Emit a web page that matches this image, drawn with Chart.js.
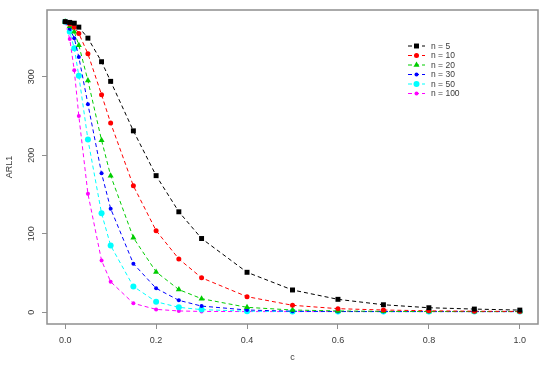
<!DOCTYPE html>
<html>
<head>
<meta charset="utf-8">
<script src="https://cdn.jsdelivr.net/npm/chart.js@4.4.1/dist/chart.umd.min.js"></script>
<style>
  html, body { margin: 0; padding: 0; background: #fff; }
</style>
</head>
<body>
<canvas id="chart" width="550" height="365"></canvas>
<script>
// shift sizes c
const cValues = [0, 0.01, 0.02, 0.03, 0.05, 0.08, 0.1, 0.15, 0.2, 0.25, 0.3, 0.4, 0.5, 0.6, 0.7, 0.8, 0.9, 1.0];

// ARL1 for each sample size n
const arlN5   = [370, 369, 368, 363, 349, 319, 294, 231, 174, 128, 94, 51, 28.5, 16.6, 9.7, 5.9, 4.2, 2.9];
const arlN10  = [370, 367, 363, 355, 329, 277, 241, 161, 104, 68, 44, 20, 9, 4.7, 3, 2, 1.5, 1.2];
const arlN20  = [370, 364, 357, 340, 295, 219, 174, 95, 51.5, 29, 17.4, 6.4, 3, 1.8, 1.3, 1.1, 1, 1];
const arlN30  = [370, 361, 349, 325, 265, 177, 132, 62, 30.6, 15.3, 8, 3, 1.5, 1.1, 1, 1, 1, 1];
const arlN50  = [370, 357, 336, 301, 220, 126, 85, 33, 13.5, 6.4, 3.5, 1.5, 1.1, 1, 1, 1, 1, 1];
const arlN100 = [370, 348, 308, 250, 151, 66, 39, 11.5, 3.8, 1.8, 1.2, 1, 1, 1, 1, 1, 1, 1];

const seriesLabels = ['n = 5', 'n = 10', 'n = 20', 'n = 30', 'n = 50', 'n = 100'];
const xTicks = [0, 0.2, 0.4, 0.6, 0.8, 1.0];
const yTicks = [0, 100, 200, 300];

const FRAME = '#8f8f8f';
const TEXT = '#3a3a3a';
const FONT = 'Liberation Sans, Arial, sans-serif';

// estilos de cada serie
const styles = [
  { color: '#000000', pointStyle: 'rect', radius: 3.5 },
  { color: '#ff0000', pointStyle: 'circle', radius: 2.5 },
  { color: '#00cd00', pointStyle: 'triangle', radius: 3.5 },
  { color: '#0000ff', pointStyle: 'circle', radius: 2 },
  { color: '#00ffff', pointStyle: 'circle', radius: 3 },
  { color: '#ff00ff', pointStyle: 'circle', radius: 2 }
];

function makeDataset(label, values, style) {
  return {
    label,
    data: values.map((v, i) => ({ x: cValues[i], y: v })),
    borderColor: style.color,
    backgroundColor: style.color,
    borderWidth: 1,
    borderDash: [4, 3],
    pointStyle: style.pointStyle,
    pointRadius: style.radius,
    pointBorderWidth: 0,
    tension: 0
  };
}

const seriesValues = [arlN5, arlN10, arlN20, arlN30, arlN50, arlN100];
const datasets = seriesValues.map((vals, i) => makeDataset(seriesLabels[i], vals, styles[i]));

// caixa à volta da área do gráfico (estilo R)
const frameBox = {
  id: 'frameBox',
  afterDraw(chart) {
    const { ctx, chartArea: a } = chart;
    ctx.save();
    ctx.strokeStyle = FRAME;
    ctx.lineWidth = 1.5;
    ctx.strokeRect(a.left, a.top, a.right - a.left, a.bottom - a.top);
    ctx.restore();
  }
};

// legenda dentro da área do gráfico
const innerLegend = {
  id: 'innerLegend',
  afterDatasetsDraw(chart) {
    const { ctx, chartArea: a } = chart;
    const x0 = a.right - 130;
    const y0 = a.top + 36;
    const step = 9.5;
    chart.data.datasets.forEach((ds, i) => {
      const y = y0 + i * step;
      ctx.save();
      ctx.strokeStyle = ds.borderColor;
      ctx.lineWidth = 1;
      ctx.setLineDash([4, 3]);
      ctx.beginPath();
      ctx.moveTo(x0, y);
      ctx.lineTo(x0 + 17, y);
      ctx.stroke();
      ctx.setLineDash([]);
      ctx.fillStyle = ds.backgroundColor;
      Chart.helpers.drawPoint(ctx, {
        pointStyle: ds.pointStyle,
        radius: ds.pointRadius,
        rotation: 0,
        borderWidth: 0
      }, x0 + 8.5, y);
      ctx.fillStyle = TEXT;
      ctx.font = '8.5px ' + FONT;
      ctx.textBaseline = 'middle';
      ctx.textAlign = 'left';
      ctx.fillText(ds.label, x0 + 23, y + 0.5);
      ctx.restore();
    });
  }
};

const chart = new Chart(document.getElementById('chart'), {
  type: 'line',
  data: { datasets },
  plugins: [frameBox, innerLegend],
  options: {
    responsive: false,
    animation: false,
    events: [],
    layout: { padding: { left: 0, right: 12, top: 10, bottom: 0 } },
    plugins: { legend: { display: false }, tooltip: { enabled: false } },
    scales: {
      x: {
        type: 'linear',
        min: -0.04,
        max: 1.04,
        afterBuildTicks: scale => { scale.ticks = xTicks.map(v => ({ value: v })); },
        afterFit: scale => { scale.height = 41; },
        border: { display: false },
        grid: { drawOnChartArea: false, drawTicks: true, tickLength: 5, tickColor: FRAME, color: FRAME },
        ticks: {
          color: TEXT,
          font: { family: FONT, size: 9 },
          padding: 6,
          maxRotation: 0,
          callback: v => v.toFixed(1)
        },
        title: {
          display: true,
          text: 'c',
          color: TEXT,
          font: { family: FONT, size: 9 },
          padding: { top: 0, bottom: 2 }
        }
      },
      y: {
        type: 'linear',
        min: -14.8,
        max: 384.8,
        afterBuildTicks: scale => { scale.ticks = yTicks.map(v => ({ value: v })); },
        afterFit: scale => { scale.width = 47; },
        border: { display: false },
        grid: { drawOnChartArea: false, drawTicks: true, tickLength: 5, tickColor: FRAME, color: FRAME },
        ticks: {
          color: TEXT,
          font: { family: FONT, size: 9 },
          padding: 3,
          minRotation: 90,
          maxRotation: 90,
          crossAlign: 'center',
          callback: v => String(v)
        },
        title: {
          display: true,
          text: 'ARL1',
          color: TEXT,
          font: { family: FONT, size: 9 },
          padding: { top: 4, bottom: 0 }
        }
      }
    }
  }
});
</script>
</body>
</html>
